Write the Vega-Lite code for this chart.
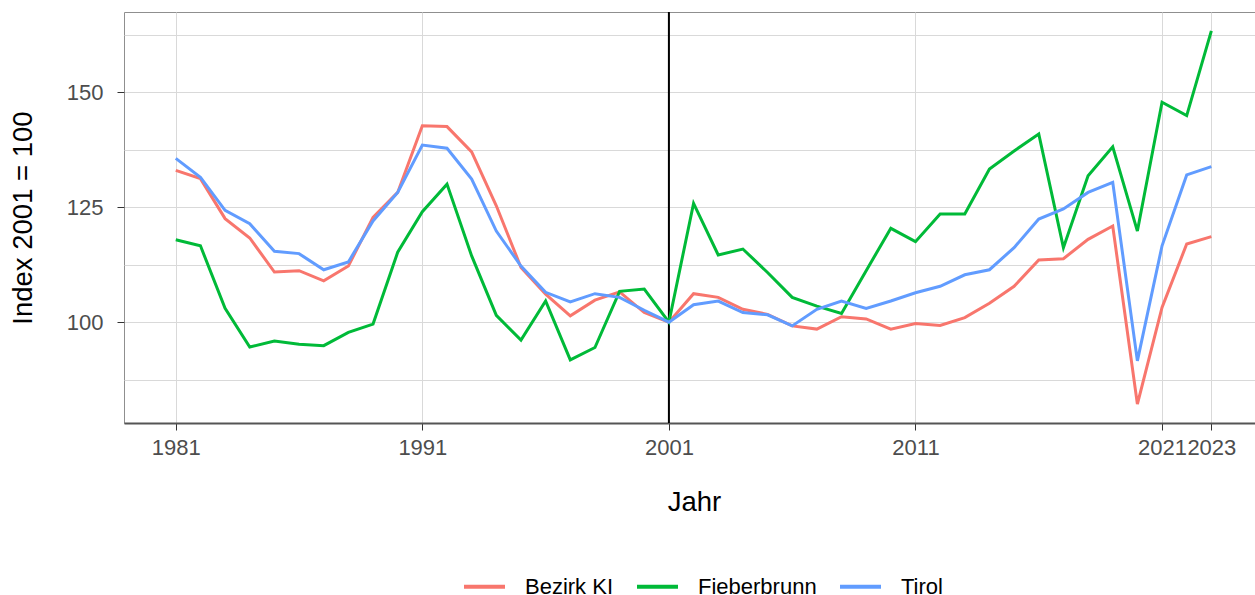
{
  "$schema": "https://vega.github.io/schema/vega-lite/v6.json",
  "width": 1131,
  "height": 411,
  "autosize": {"type": "none"},
  "padding": {"left": 124, "top": 12, "right": 0, "bottom": 172},
  "background": "white",
  "config": {
    "font": "Liberation Sans",
    "view": {"stroke": "#8f8f8f", "strokeWidth": 1},
    "axis": {
      "labelFont": "Liberation Sans",
      "titleFont": "Liberation Sans",
      "labelFontSize": 22,
      "labelColor": "#4d4d4d",
      "titleFontSize": 27.5,
      "titleFontWeight": "normal",
      "titleColor": "#000000",
      "gridColor": "#d9d9d9",
      "gridWidth": 1,
      "tickColor": "#333333",
      "tickSize": 7,
      "tickWidth": 1
    }
  },
  "data": {"values": [
    {"Jahr": 1981, "Region": "Bezirk KI", "Index": 133.0},
    {"Jahr": 1982, "Region": "Bezirk KI", "Index": 131.2},
    {"Jahr": 1983, "Region": "Bezirk KI", "Index": 122.5},
    {"Jahr": 1984, "Region": "Bezirk KI", "Index": 118.3},
    {"Jahr": 1985, "Region": "Bezirk KI", "Index": 110.9},
    {"Jahr": 1986, "Region": "Bezirk KI", "Index": 111.2},
    {"Jahr": 1987, "Region": "Bezirk KI", "Index": 109.0},
    {"Jahr": 1988, "Region": "Bezirk KI", "Index": 112.2},
    {"Jahr": 1989, "Region": "Bezirk KI", "Index": 122.8},
    {"Jahr": 1990, "Region": "Bezirk KI", "Index": 128.2},
    {"Jahr": 1991, "Region": "Bezirk KI", "Index": 142.7},
    {"Jahr": 1992, "Region": "Bezirk KI", "Index": 142.5},
    {"Jahr": 1993, "Region": "Bezirk KI", "Index": 137.0},
    {"Jahr": 1994, "Region": "Bezirk KI", "Index": 125.3},
    {"Jahr": 1995, "Region": "Bezirk KI", "Index": 111.9},
    {"Jahr": 1996, "Region": "Bezirk KI", "Index": 106.1},
    {"Jahr": 1997, "Region": "Bezirk KI", "Index": 101.4},
    {"Jahr": 1998, "Region": "Bezirk KI", "Index": 104.8},
    {"Jahr": 1999, "Region": "Bezirk KI", "Index": 106.6},
    {"Jahr": 2000, "Region": "Bezirk KI", "Index": 102.1},
    {"Jahr": 2001, "Region": "Bezirk KI", "Index": 100.0},
    {"Jahr": 2002, "Region": "Bezirk KI", "Index": 106.2},
    {"Jahr": 2003, "Region": "Bezirk KI", "Index": 105.4},
    {"Jahr": 2004, "Region": "Bezirk KI", "Index": 102.8},
    {"Jahr": 2005, "Region": "Bezirk KI", "Index": 101.7},
    {"Jahr": 2006, "Region": "Bezirk KI", "Index": 99.2},
    {"Jahr": 2007, "Region": "Bezirk KI", "Index": 98.5},
    {"Jahr": 2008, "Region": "Bezirk KI", "Index": 101.2},
    {"Jahr": 2009, "Region": "Bezirk KI", "Index": 100.7},
    {"Jahr": 2010, "Region": "Bezirk KI", "Index": 98.5},
    {"Jahr": 2011, "Region": "Bezirk KI", "Index": 99.7},
    {"Jahr": 2012, "Region": "Bezirk KI", "Index": 99.3},
    {"Jahr": 2013, "Region": "Bezirk KI", "Index": 101.0},
    {"Jahr": 2014, "Region": "Bezirk KI", "Index": 104.1},
    {"Jahr": 2015, "Region": "Bezirk KI", "Index": 107.8},
    {"Jahr": 2016, "Region": "Bezirk KI", "Index": 113.5},
    {"Jahr": 2017, "Region": "Bezirk KI", "Index": 113.8},
    {"Jahr": 2018, "Region": "Bezirk KI", "Index": 118.0},
    {"Jahr": 2019, "Region": "Bezirk KI", "Index": 120.9},
    {"Jahr": 2020, "Region": "Bezirk KI", "Index": 82.2},
    {"Jahr": 2021, "Region": "Bezirk KI", "Index": 103.2},
    {"Jahr": 2022, "Region": "Bezirk KI", "Index": 117.0},
    {"Jahr": 2023, "Region": "Bezirk KI", "Index": 118.6},
    {"Jahr": 1981, "Region": "Fieberbrunn", "Index": 117.9},
    {"Jahr": 1982, "Region": "Fieberbrunn", "Index": 116.6},
    {"Jahr": 1983, "Region": "Fieberbrunn", "Index": 103.0},
    {"Jahr": 1984, "Region": "Fieberbrunn", "Index": 94.6},
    {"Jahr": 1985, "Region": "Fieberbrunn", "Index": 95.9},
    {"Jahr": 1986, "Region": "Fieberbrunn", "Index": 95.2},
    {"Jahr": 1987, "Region": "Fieberbrunn", "Index": 94.9},
    {"Jahr": 1988, "Region": "Fieberbrunn", "Index": 97.8},
    {"Jahr": 1989, "Region": "Fieberbrunn", "Index": 99.6},
    {"Jahr": 1990, "Region": "Fieberbrunn", "Index": 115.2},
    {"Jahr": 1991, "Region": "Fieberbrunn", "Index": 124.0},
    {"Jahr": 1992, "Region": "Fieberbrunn", "Index": 130.0},
    {"Jahr": 1993, "Region": "Fieberbrunn", "Index": 114.4},
    {"Jahr": 1994, "Region": "Fieberbrunn", "Index": 101.5},
    {"Jahr": 1995, "Region": "Fieberbrunn", "Index": 96.1},
    {"Jahr": 1996, "Region": "Fieberbrunn", "Index": 104.6},
    {"Jahr": 1997, "Region": "Fieberbrunn", "Index": 91.8},
    {"Jahr": 1998, "Region": "Fieberbrunn", "Index": 94.5},
    {"Jahr": 1999, "Region": "Fieberbrunn", "Index": 106.7},
    {"Jahr": 2000, "Region": "Fieberbrunn", "Index": 107.2},
    {"Jahr": 2001, "Region": "Fieberbrunn", "Index": 100.0},
    {"Jahr": 2002, "Region": "Fieberbrunn", "Index": 125.8},
    {"Jahr": 2003, "Region": "Fieberbrunn", "Index": 114.6},
    {"Jahr": 2004, "Region": "Fieberbrunn", "Index": 115.9},
    {"Jahr": 2005, "Region": "Fieberbrunn", "Index": 110.8},
    {"Jahr": 2006, "Region": "Fieberbrunn", "Index": 105.4},
    {"Jahr": 2007, "Region": "Fieberbrunn", "Index": 103.5},
    {"Jahr": 2008, "Region": "Fieberbrunn", "Index": 101.9},
    {"Jahr": 2009, "Region": "Fieberbrunn", "Index": 111.2},
    {"Jahr": 2010, "Region": "Fieberbrunn", "Index": 120.4},
    {"Jahr": 2011, "Region": "Fieberbrunn", "Index": 117.5},
    {"Jahr": 2012, "Region": "Fieberbrunn", "Index": 123.5},
    {"Jahr": 2013, "Region": "Fieberbrunn", "Index": 123.5},
    {"Jahr": 2014, "Region": "Fieberbrunn", "Index": 133.3},
    {"Jahr": 2015, "Region": "Fieberbrunn", "Index": 137.2},
    {"Jahr": 2016, "Region": "Fieberbrunn", "Index": 140.9},
    {"Jahr": 2017, "Region": "Fieberbrunn", "Index": 116.2},
    {"Jahr": 2018, "Region": "Fieberbrunn", "Index": 131.8},
    {"Jahr": 2019, "Region": "Fieberbrunn", "Index": 138.1},
    {"Jahr": 2020, "Region": "Fieberbrunn", "Index": 119.8},
    {"Jahr": 2021, "Region": "Fieberbrunn", "Index": 147.8},
    {"Jahr": 2022, "Region": "Fieberbrunn", "Index": 144.9},
    {"Jahr": 2023, "Region": "Fieberbrunn", "Index": 163.3},
    {"Jahr": 1981, "Region": "Tirol", "Index": 135.6},
    {"Jahr": 1982, "Region": "Tirol", "Index": 131.5},
    {"Jahr": 1983, "Region": "Tirol", "Index": 124.3},
    {"Jahr": 1984, "Region": "Tirol", "Index": 121.4},
    {"Jahr": 1985, "Region": "Tirol", "Index": 115.4},
    {"Jahr": 1986, "Region": "Tirol", "Index": 114.9},
    {"Jahr": 1987, "Region": "Tirol", "Index": 111.4},
    {"Jahr": 1988, "Region": "Tirol", "Index": 113.1},
    {"Jahr": 1989, "Region": "Tirol", "Index": 122.0},
    {"Jahr": 1990, "Region": "Tirol", "Index": 128.2},
    {"Jahr": 1991, "Region": "Tirol", "Index": 138.5},
    {"Jahr": 1992, "Region": "Tirol", "Index": 137.8},
    {"Jahr": 1993, "Region": "Tirol", "Index": 131.1},
    {"Jahr": 1994, "Region": "Tirol", "Index": 119.8},
    {"Jahr": 1995, "Region": "Tirol", "Index": 112.2},
    {"Jahr": 1996, "Region": "Tirol", "Index": 106.5},
    {"Jahr": 1997, "Region": "Tirol", "Index": 104.4},
    {"Jahr": 1998, "Region": "Tirol", "Index": 106.2},
    {"Jahr": 1999, "Region": "Tirol", "Index": 105.4},
    {"Jahr": 2000, "Region": "Tirol", "Index": 102.6},
    {"Jahr": 2001, "Region": "Tirol", "Index": 100.0},
    {"Jahr": 2002, "Region": "Tirol", "Index": 103.8},
    {"Jahr": 2003, "Region": "Tirol", "Index": 104.6},
    {"Jahr": 2004, "Region": "Tirol", "Index": 102.1},
    {"Jahr": 2005, "Region": "Tirol", "Index": 101.6},
    {"Jahr": 2006, "Region": "Tirol", "Index": 99.2},
    {"Jahr": 2007, "Region": "Tirol", "Index": 102.8},
    {"Jahr": 2008, "Region": "Tirol", "Index": 104.6},
    {"Jahr": 2009, "Region": "Tirol", "Index": 103.0},
    {"Jahr": 2010, "Region": "Tirol", "Index": 104.6},
    {"Jahr": 2011, "Region": "Tirol", "Index": 106.4},
    {"Jahr": 2012, "Region": "Tirol", "Index": 107.8},
    {"Jahr": 2013, "Region": "Tirol", "Index": 110.3},
    {"Jahr": 2014, "Region": "Tirol", "Index": 111.4},
    {"Jahr": 2015, "Region": "Tirol", "Index": 116.2},
    {"Jahr": 2016, "Region": "Tirol", "Index": 122.4},
    {"Jahr": 2017, "Region": "Tirol", "Index": 124.6},
    {"Jahr": 2018, "Region": "Tirol", "Index": 128.2},
    {"Jahr": 2019, "Region": "Tirol", "Index": 130.4},
    {"Jahr": 2020, "Region": "Tirol", "Index": 91.6},
    {"Jahr": 2021, "Region": "Tirol", "Index": 116.6},
    {"Jahr": 2022, "Region": "Tirol", "Index": 132.0},
    {"Jahr": 2023, "Region": "Tirol", "Index": 133.8}
  ]},
  "layer": [
    {
      "data": {"values": [{"Jahr": 2001}]},
      "mark": {"type": "rule", "color": "#000000", "strokeWidth": 2},
      "encoding": {
        "x": {"field": "Jahr", "type": "quantitative"}
      }
    },
    {
      "mark": {"type": "line", "strokeWidth": 3, "clip": true},
      "encoding": {
        "x": {
          "field": "Jahr",
          "type": "quantitative",
          "title": "Jahr",
          "scale": {"domain": [1978.9, 2024.77], "nice": false, "zero": false},
          "axis": {
            "values": [1981, 1991, 2001, 2011, 2021, 2023],
            "format": "d",
            "labelPadding": 7,
            "labelFlush": false,
            "labelOverlap": false,
            "domainColor": "#555555",
            "domainWidth": 2,
            "titleX": 570,
            "titleY": 87,
            "titleAlign": "center",
            "titleBaseline": "alphabetic"
          }
        },
        "y": {
          "field": "Index",
          "type": "quantitative",
          "title": "Index 2001 = 100",
          "scale": {"domain": [78.1, 167.4], "nice": false, "zero": false},
          "axis": {
            "values": [87.5, 100, 112.5, 125, 137.5, 150, 162.5],
            "labelExpr": "datum.value % 25 == 0 ? datum.label : ''",
            "tickOpacity": {"condition": {"test": "datum.value % 25 == 0", "value": 1}, "value": 0},
            "domain": false,
            "labelPadding": 14,
            "labelFlush": false,
            "labelOverlap": false,
            "titleX": -93,
            "titleBaseline": "alphabetic"
          }
        },
        "color": {
          "field": "Region",
          "type": "nominal",
          "scale": {"domain": ["Bezirk KI", "Fieberbrunn", "Tirol"], "range": ["#F8766D", "#00BA38", "#619CFF"]},
          "legend": {
            "title": null,
            "orient": "none",
            "direction": "horizontal",
            "legendX": 338,
            "legendY": 552,
            "padding": 0,
            "symbolType": "stroke",
            "symbolSize": 1681,
            "symbolStrokeWidth": 4,
            "labelFontSize": 22,
            "labelFont": "Liberation Sans",
            "labelColor": "#000000",
            "labelOffset": 18,
            "columnPadding": 15
          }
        }
      }
    }
  ]
}
